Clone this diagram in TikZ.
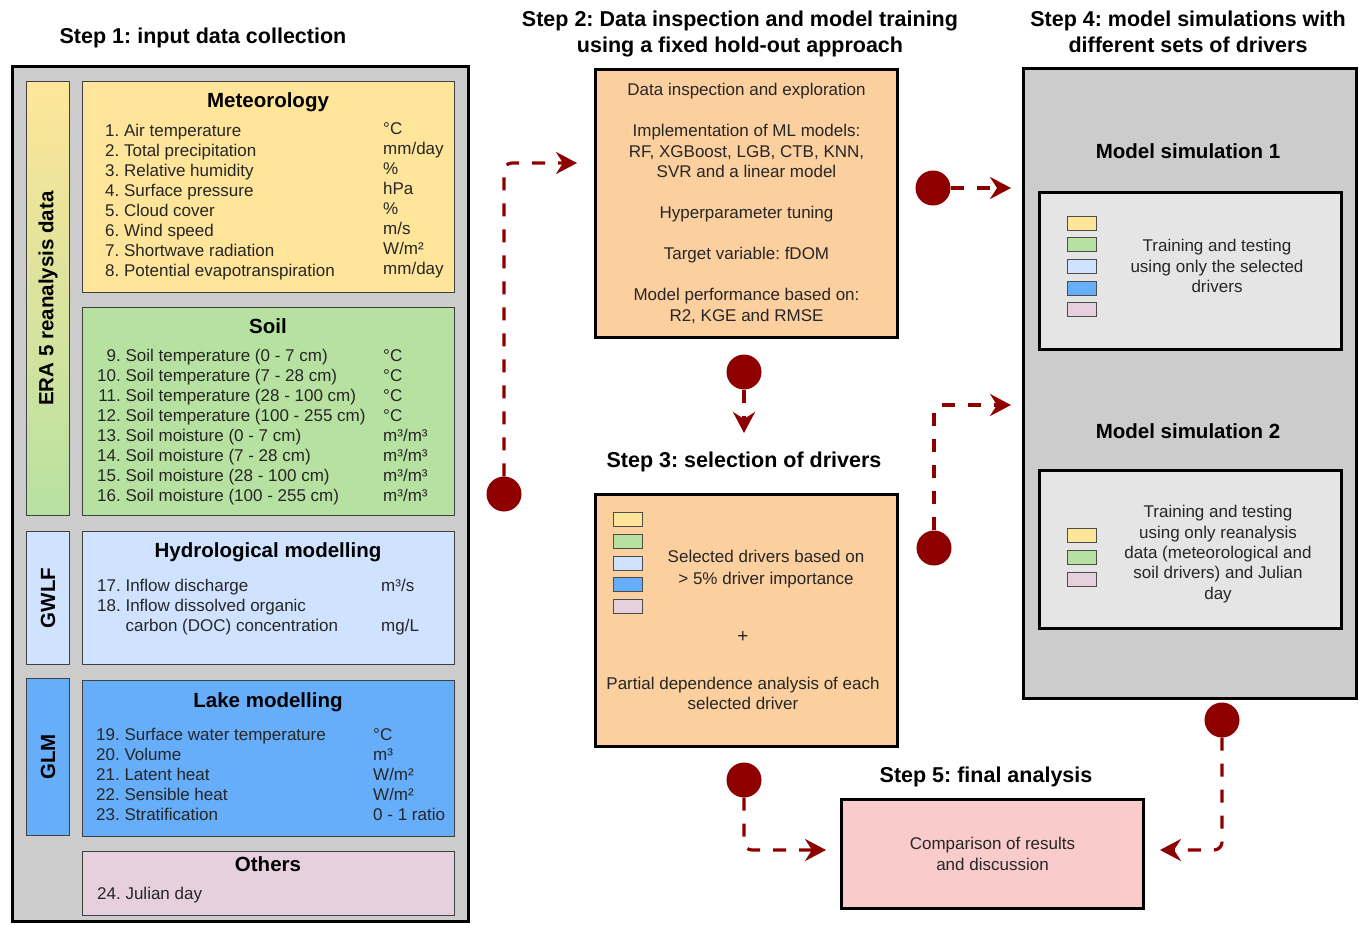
\documentclass[tikz,border=0pt]{standalone}
\usepackage{fontspec}
\setmainfont{Liberation Sans}
\usepackage{tikz}
\usetikzlibrary{arrows.meta}
\frenchspacing

\definecolor{metyellow}{HTML}{FFE599}
\definecolor{soilgreen}{HTML}{B7E1A1}
\definecolor{hydroblue}{HTML}{CFE2FF}
\definecolor{lakeblue}{HTML}{66ADFA}
\definecolor{otherpink}{HTML}{E6D0DE}
\definecolor{stepgrey}{HTML}{CCCCCC}
\definecolor{simgrey}{HTML}{E5E5E5}
\definecolor{insporange}{HTML}{FCCF9E}
\definecolor{finalpink}{HTML}{F9CBCB}
\definecolor{linkred}{HTML}{8E0000}

\newcommand{\bodyfont}{\fontsize{17}{20}\selectfont}
\newcommand{\headfont}{\fontsize{20.5}{24}\selectfont\bfseries}
\newcommand{\stepfont}{\fontsize{21.5}{25.5}\selectfont\bfseries}

\begin{document}
\begin{tikzpicture}[x=1pt, y=-1pt, >={Stealth[length=21pt, width=22pt, inset=7pt]}]
\tikzstyle{framebox} = [draw, line width=3pt, inner sep=0pt, anchor=north west]
\tikzstyle{groupbox} = [draw=black!75, line width=1.2pt, inner sep=0pt, anchor=north west]
\tikzstyle{block} = [framebox, fill=insporange, font=\bodyfont, text=black!85, align=center]
\tikzstyle{steptitle} = [font=\stepfont, align=center, inner sep=0pt]
\tikzstyle{grouptitle} = [font=\headfont, inner sep=0pt, anchor=base]
\tikzstyle{items} = [font=\bodyfont, text=black!85, inner sep=0pt, anchor=base west]
\tikzstyle{swatch} = [draw=black!70, line width=1.2pt, minimum width=29pt, minimum height=14pt, inner sep=0pt, anchor=north west]
\tikzstyle{dot} = [circle, fill=linkred, minimum size=35pt, inner sep=0pt]
\tikzstyle{line} = [draw=linkred, line width=3.2pt, dash pattern=on 13pt off 13pt, rounded corners=8pt, ->]

\useasboundingbox (0,0) rectangle (1359,924);

\node [steptitle, anchor=base] (title1) at (203,43) {Step 1: input data collection};
\node [framebox, fill=stepgrey, minimum width=456pt, minimum height=855pt] (inputs) at (11,65) {};

\node [groupbox, top color=metyellow, bottom color=soilgreen, minimum width=43pt, minimum height=434pt] (era) at (26,81) {};
\node [grouptitle, anchor=center, rotate=90] at (era.center) {ERA 5 reanalysis data};
\node [groupbox, fill=hydroblue, minimum width=43pt, minimum height=133pt] (gwlf) at (26,531) {};
\node [grouptitle, anchor=center, rotate=90] at (gwlf.center) {GWLF};
\node [groupbox, fill=lakeblue, minimum width=43pt, minimum height=157pt] (glm) at (26,678) {};
\node [grouptitle, anchor=center, rotate=90] at (glm.center) {GLM};

\node [groupbox, fill=metyellow, minimum width=372pt, minimum height=211pt] (met) at (82,81) {};
\node [grouptitle] at (268,107) {Meteorology};
\node [items] at (105,136) {\begin{tabular}[t]{@{}r@{ }l@{}}
1.&Air temperature\\ 2.&Total precipitation\\ 3.&Relative humidity\\ 4.&Surface pressure\\
5.&Cloud cover\\ 6.&Wind speed\\ 7.&Shortwave radiation\\ 8.&Potential evapotranspiration
\end{tabular}};
\node [items] at (383,134) {\begin{tabular}[t]{@{}l@{}}
°C\\ mm/day\\ \%\\ hPa\\ \%\\ m/s\\ W/m²\\ mm/day
\end{tabular}};

\node [groupbox, fill=soilgreen, minimum width=372pt, minimum height=208pt] (soil) at (82,307) {};
\node [grouptitle] at (268,333) {Soil};
\node [items] at (97,361) {\begin{tabular}[t]{@{}r@{ }l@{}}
9.&Soil temperature (0 - 7 cm)\\ 10.&Soil temperature (7 - 28 cm)\\
11.&Soil temperature (28 - 100 cm)\\ 12.&Soil temperature (100 - 255 cm)\\
13.&Soil moisture (0 - 7 cm)\\ 14.&Soil moisture (7 - 28 cm)\\
15.&Soil moisture (28 - 100 cm)\\ 16.&Soil moisture (100 - 255 cm)
\end{tabular}};
\node [items] at (383,361) {\begin{tabular}[t]{@{}l@{}}
°C\\ °C\\ °C\\ °C\\ m³/m³\\ m³/m³\\ m³/m³\\ m³/m³
\end{tabular}};

\node [groupbox, fill=hydroblue, minimum width=372pt, minimum height=133pt] (hydro) at (82,531) {};
\node [grouptitle] at (268,557) {Hydrological modelling};
\node [items] at (97,591) {\begin{tabular}[t]{@{}r@{ }l@{}}
17.&Inflow discharge\\ 18.&Inflow dissolved organic\\ &carbon (DOC) concentration
\end{tabular}};
\node [items] at (381,591) {\begin{tabular}[t]{@{}l@{}}
m³/s\\ \\ mg/L
\end{tabular}};

\node [groupbox, fill=lakeblue, minimum width=372pt, minimum height=156pt] (lake) at (82,680) {};
\node [grouptitle] at (268,707) {Lake modelling};
\node [items] at (96,740) {\begin{tabular}[t]{@{}r@{ }l@{}}
19.&Surface water temperature\\ 20.&Volume\\ 21.&Latent heat\\ 22.&Sensible heat\\ 23.&Stratification
\end{tabular}};
\node [items] at (373,740) {\begin{tabular}[t]{@{}l@{}}
°C\\ m³\\ W/m²\\ W/m²\\ 0 - 1 ratio
\end{tabular}};

\node [groupbox, fill=otherpink, minimum width=372pt, minimum height=64pt] (others) at (82,851) {};
\node [grouptitle] at (268,871) {Others};
\node [items] at (97,899) {24. Julian day};

\node [steptitle, anchor=north] (title2) at (740,11) {Step 2: Data inspection and model training\\using a fixed hold-out approach};
\node [block, font=\fontsize{17}{20.5}\selectfont, minimum width=302pt, minimum height=268pt] (insp) at (594,68)
  {Data inspection and exploration\\[20.5pt]
   Implementation of ML models:\\RF, XGBoost, LGB, CTB, KNN,\\SVR and a linear model\\[20.5pt]
   Hyperparameter tuning\\[20.5pt]
   Target variable: fDOM\\[20.5pt]
   Model performance based on:\\R2, KGE and RMSE};

\node [steptitle, anchor=base] (title3) at (744,467) {Step 3: selection of drivers};
\node [block, minimum width=302pt, minimum height=252pt] (sel) at (594,493) {};
\node [swatch, fill=metyellow] at (613,512) {};
\node [swatch, fill=soilgreen] at (613,534) {};
\node [swatch, fill=hydroblue] at (613,556) {};
\node [swatch, fill=lakeblue] at (613,577) {};
\node [swatch, fill=otherpink] at (613,599) {};
\node [font=\fontsize{17}{22}\selectfont, text=black!85, align=center, inner sep=0pt] at (766,569) {Selected drivers based on\\> 5\% driver importance};
\node [font=\fontsize{19}{22}\selectfont, text=black!85, inner sep=0pt] at (743,637) {+};
\node [font=\bodyfont, text=black!85, align=center, inner sep=0pt] at (743,693) {Partial dependence analysis of each\\selected driver};

\node [steptitle, anchor=north] (title4) at (1188,11) {Step 4: model simulations with\\different sets of drivers};
\node [framebox, fill=stepgrey, minimum width=333pt, minimum height=630pt] (sims) at (1022,67) {};
\node [grouptitle] at (1188,158) {Model simulation 1};
\node [framebox, fill=simgrey, minimum width=302pt, minimum height=157pt] (sim1) at (1038,191) {};
\node [swatch, fill=metyellow] at (1067,216) {};
\node [swatch, fill=soilgreen] at (1067,237) {};
\node [swatch, fill=hydroblue] at (1067,259) {};
\node [swatch, fill=lakeblue] at (1067,281) {};
\node [swatch, fill=otherpink] at (1067,302) {};
\node [font=\fontsize{17}{20.5}\selectfont, text=black!85, align=center, inner sep=0pt] at (1217,266) {Training and testing\\using only the selected\\drivers};
\node [grouptitle] at (1188,438) {Model simulation 2};
\node [framebox, fill=simgrey, minimum width=302pt, minimum height=158pt] (sim2) at (1038,469) {};
\node [swatch, fill=metyellow] at (1067,528) {};
\node [swatch, fill=soilgreen] at (1067,550) {};
\node [swatch, fill=otherpink] at (1067,572) {};
\node [font=\fontsize{17}{20.3}\selectfont, text=black!85, align=center, inner sep=0pt] at (1218,554) {Training and testing\\using only reanalysis\\data (meteorological and\\soil drivers) and Julian\\day};

\node [steptitle, anchor=base] (title5) at (986,782) {Step 5: final analysis};
\node [block, fill=finalpink, font=\fontsize{17}{21}\selectfont, minimum width=302pt, minimum height=109pt] (final) at (840,798) {Comparison of results\\and discussion};

\node [dot] (c1) at (504,494) {};
\coordinate (e1) at (577,163);
\node [dot] (c2) at (933,188) {};
\coordinate (e2) at (1011,188);
\node [dot] (c3) at (744,372) {};
\coordinate (e3) at (744,433);
\node [dot] (c4) at (934,548) {};
\coordinate (e4) at (1011,405);
\node [dot] (c5) at (744,780) {};
\coordinate (e5) at (826,850);
\node [dot] (c6) at (1222,720) {};
\coordinate (e6) at (1160,850);

\path [line] (c1) |- (e1);
\path [line] (c2) -- (e2);
\path [line] (c3) -- (e3);
\path [line] (c4) |- (e4);
\path [line] (c5) |- (e5);
\path [line] (c6) |- (e6);
\end{tikzpicture}
\end{document}
